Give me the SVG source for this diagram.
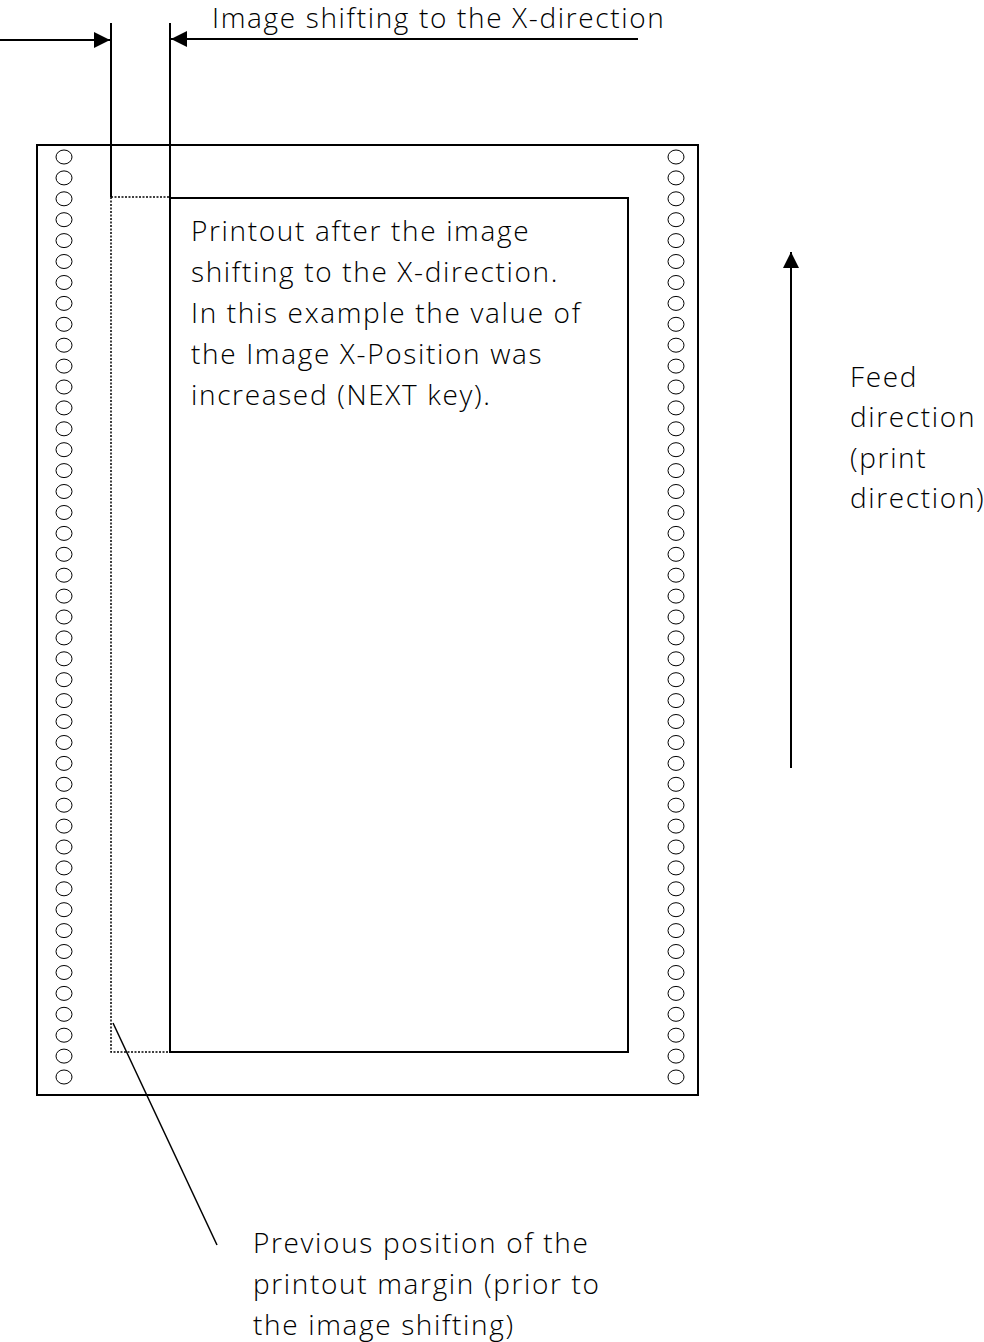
<svg xmlns="http://www.w3.org/2000/svg" width="984" height="1342" viewBox="0 0 984 1342">
<style>
.ln{stroke:#000;stroke-width:2;fill:none}
.dot{stroke:#000;stroke-width:1.5;fill:none;stroke-dasharray:2,1.5}
.hole{stroke:#000;stroke-width:1;fill:#fff}
text{font-family:"Open Sans","Liberation Sans",sans-serif;font-size:28px;fill:#000;font-weight:300;letter-spacing:1.65px}
</style>
<defs>
<marker id="ah" markerWidth="18" markerHeight="16" refX="16" refY="8" orient="auto" markerUnits="userSpaceOnUse">
<path d="M0,0 L16,8 L0,16 Z" fill="#000"/>
</marker>
</defs>
<g id="paper">
<rect class="ln" x="37" y="145" width="661" height="950"/>
</g>
<g id="printout">
<rect class="ln" x="170" y="198" width="458" height="854"/>
<text x="191" y="241">Printout after the image</text>
<text x="191" y="282">shifting to the X-direction.</text>
<text x="191" y="323">In this example the value of</text>
<text x="191" y="364">the Image X-Position was</text>
<text x="191" y="405">increased (NEXT key).</text>
</g>
<g id="previous-margin">
<path class="dot" d="M111,197 H170 M111,197 V1052 H170"/>
</g>
<g id="shift-label">
<text x="212" y="28">Image shifting to the X-direction</text>
</g>
<g id="feed-label">
<text x="850" y="387">Feed</text>
<text x="850" y="427">direction</text>
<text x="850" y="468">(print</text>
<text x="850" y="508">direction)</text>
</g>
<g id="prev-label">
<text x="253" y="1253">Previous position of the</text>
<text x="253" y="1294">printout margin (prior to</text>
<text x="253" y="1335">the image shifting)</text>
</g>
<g id="connectors">
<line class="ln" x1="111" y1="23" x2="111" y2="197"/>
<line class="ln" x1="170" y1="23" x2="170" y2="198"/>
<line class="ln" x1="0" y1="40" x2="110" y2="40" marker-end="url(#ah)"/>
<line class="ln" x1="638" y1="39" x2="171" y2="39" marker-end="url(#ah)"/>
<line class="ln" x1="791" y1="768" x2="791" y2="252" marker-end="url(#ah)"/>
<line stroke="#000" stroke-width="1.5" x1="113" y1="1023" x2="217" y2="1245"/>
</g>
<g id="sprockets">
<g id="left-holes" transform="translate(64,0)">
<ellipse class="hole" cx="0" cy="157.0" rx="8" ry="7"/><ellipse class="hole" cx="0" cy="177.9" rx="8" ry="7"/><ellipse class="hole" cx="0" cy="198.8" rx="8" ry="7"/><ellipse class="hole" cx="0" cy="219.7" rx="8" ry="7"/><ellipse class="hole" cx="0" cy="240.6" rx="8" ry="7"/><ellipse class="hole" cx="0" cy="261.5" rx="8" ry="7"/><ellipse class="hole" cx="0" cy="282.5" rx="8" ry="7"/><ellipse class="hole" cx="0" cy="303.4" rx="8" ry="7"/><ellipse class="hole" cx="0" cy="324.3" rx="8" ry="7"/><ellipse class="hole" cx="0" cy="345.2" rx="8" ry="7"/><ellipse class="hole" cx="0" cy="366.1" rx="8" ry="7"/><ellipse class="hole" cx="0" cy="387.0" rx="8" ry="7"/><ellipse class="hole" cx="0" cy="407.9" rx="8" ry="7"/><ellipse class="hole" cx="0" cy="428.8" rx="8" ry="7"/><ellipse class="hole" cx="0" cy="449.7" rx="8" ry="7"/><ellipse class="hole" cx="0" cy="470.6" rx="8" ry="7"/><ellipse class="hole" cx="0" cy="491.5" rx="8" ry="7"/><ellipse class="hole" cx="0" cy="512.5" rx="8" ry="7"/><ellipse class="hole" cx="0" cy="533.4" rx="8" ry="7"/><ellipse class="hole" cx="0" cy="554.3" rx="8" ry="7"/><ellipse class="hole" cx="0" cy="575.2" rx="8" ry="7"/><ellipse class="hole" cx="0" cy="596.1" rx="8" ry="7"/><ellipse class="hole" cx="0" cy="617.0" rx="8" ry="7"/><ellipse class="hole" cx="0" cy="637.9" rx="8" ry="7"/><ellipse class="hole" cx="0" cy="658.8" rx="8" ry="7"/><ellipse class="hole" cx="0" cy="679.7" rx="8" ry="7"/><ellipse class="hole" cx="0" cy="700.6" rx="8" ry="7"/><ellipse class="hole" cx="0" cy="721.5" rx="8" ry="7"/><ellipse class="hole" cx="0" cy="742.5" rx="8" ry="7"/><ellipse class="hole" cx="0" cy="763.4" rx="8" ry="7"/><ellipse class="hole" cx="0" cy="784.3" rx="8" ry="7"/><ellipse class="hole" cx="0" cy="805.2" rx="8" ry="7"/><ellipse class="hole" cx="0" cy="826.1" rx="8" ry="7"/><ellipse class="hole" cx="0" cy="847.0" rx="8" ry="7"/><ellipse class="hole" cx="0" cy="867.9" rx="8" ry="7"/><ellipse class="hole" cx="0" cy="888.8" rx="8" ry="7"/><ellipse class="hole" cx="0" cy="909.7" rx="8" ry="7"/><ellipse class="hole" cx="0" cy="930.6" rx="8" ry="7"/><ellipse class="hole" cx="0" cy="951.5" rx="8" ry="7"/><ellipse class="hole" cx="0" cy="972.5" rx="8" ry="7"/><ellipse class="hole" cx="0" cy="993.4" rx="8" ry="7"/><ellipse class="hole" cx="0" cy="1014.3" rx="8" ry="7"/><ellipse class="hole" cx="0" cy="1035.2" rx="8" ry="7"/><ellipse class="hole" cx="0" cy="1056.1" rx="8" ry="7"/><ellipse class="hole" cx="0" cy="1077.0" rx="8" ry="7"/>
</g>
<use href="#left-holes" transform="translate(612,0)"/>
</g>
</svg>
